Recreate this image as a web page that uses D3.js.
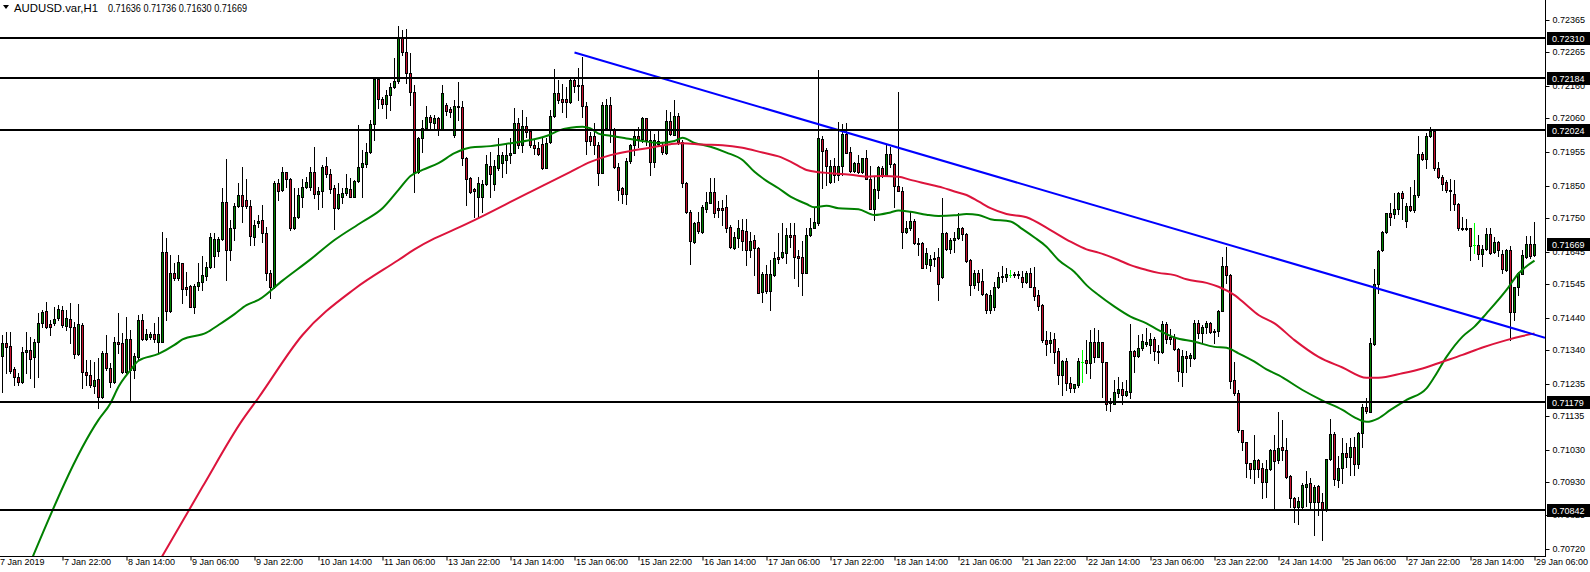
<!DOCTYPE html>
<html><head><meta charset="utf-8">
<script src="https://cdn.jsdelivr.net/npm/d3@7"></script>
<style>
html,body{margin:0;padding:0;background:#fff;overflow:hidden}
svg{display:block}
text{font-family:"Liberation Sans",Arial,sans-serif;font-size:9px;fill:#000}
</style></head><body>
<svg id="chart" width="1590" height="572"></svg>
<script>
const symbolTitle = "AUDUSD.var,H1";
const titleValues = "0.71636 0.71736 0.71630 0.71669";

const open = [
0.71321,0.71360,0.71351,0.71279,0.71254,0.71241,0.71334,0.71338,0.71319,0.71363,0.71424,0.71459,0.71420,0.71422,0.71438,0.71463,
0.71415,0.71437,0.71410,0.71326,0.71417,0.71270,0.71261,0.71228,0.71248,0.71194,0.71331,0.71284,0.71239,0.71364,0.71361,0.71272,
0.71375,0.71277,0.71319,0.71432,0.71375,0.71381,0.71388,0.71365,0.71365,0.71643,0.71462,0.71578,0.71562,0.71609,0.71536,0.71538,
0.71474,0.71539,0.71552,0.71570,0.71596,0.71630,0.71648,0.71683,0.71799,0.71650,0.71717,0.71787,0.71821,0.71805,0.71788,0.71692,
0.71733,0.71743,0.71702,0.71578,0.71536,0.71857,0.71837,0.71892,0.71870,0.71720,0.71752,0.71816,0.71845,0.71847,0.71892,0.71823,
0.71832,0.71911,0.71885,0.71842,0.71780,0.71816,0.71826,0.71839,0.71816,0.71864,0.71907,0.71918,0.71954,0.72041,0.72182,0.72118,
0.72104,0.72131,0.72157,0.72174,0.72308,0.72267,0.72199,0.72142,0.71894,0.71997,0.72028,0.72065,0.72044,0.72061,0.72027,0.72101,
0.72087,0.72007,0.72098,0.72094,0.71935,0.71873,0.71839,0.71816,0.71816,0.71855,0.71912,0.71854,0.71904,0.71919,0.71930,0.71945,
0.71953,0.72044,0.71976,0.72035,0.72020,0.71976,0.71968,0.71981,0.71906,0.71987,0.72066,0.72137,0.72119,0.72119,0.72109,0.72180,
0.72161,0.72163,0.72097,0.72004,0.72004,0.71978,0.71890,0.72028,0.72102,0.72026,0.71909,0.71842,0.71823,0.71926,0.71976,0.72004,
0.71995,0.72059,0.71992,0.71924,0.71989,0.71976,0.71953,0.72051,0.72009,0.72066,0.71987,0.71859,0.71769,0.71676,0.71736,0.71707,
0.71779,0.71797,0.71831,0.71780,0.71780,0.71783,0.71722,0.71657,0.71688,0.71712,0.71709,0.71650,0.71681,0.71655,0.71520,0.71577,
0.71524,0.71573,0.71628,0.71628,0.71642,0.71697,0.71697,0.71630,0.71628,0.71580,0.71697,0.71718,0.71733,0.71995,0.71961,0.71863,
0.71912,0.71884,0.71910,0.72011,0.71956,0.71896,0.71922,0.71894,0.71935,0.71871,0.71778,0.71837,0.71904,0.71884,0.71948,0.71918,
0.71849,0.71834,0.71707,0.71718,0.71741,0.71673,0.71671,0.71607,0.71605,0.71621,0.71627,0.71566,0.71702,0.71653,0.71680,0.71687,
0.71718,0.71700,0.71619,0.71540,0.71578,0.71554,0.71513,0.71464,0.71474,0.71534,0.71565,0.71567,0.71573,0.71575,0.71572,0.71566,
0.71552,0.71580,0.71536,0.71510,0.71479,0.71370,0.71360,0.71373,0.71336,0.71263,0.71305,0.71238,0.71222,0.71232,0.71303,0.71308,
0.71300,0.71365,0.71318,0.71363,0.71301,0.71178,0.71173,0.71207,0.71217,0.71199,0.71210,0.71336,0.71321,0.71344,0.71358,0.71355,
0.71375,0.71337,0.71334,0.71419,0.71380,0.71380,0.71341,0.71272,0.71320,0.71313,0.71313,0.71422,0.71391,0.71410,0.71424,0.71394,
0.71398,0.71462,0.71600,0.71572,0.71246,0.71207,0.71090,0.71052,0.70987,0.70968,0.70997,0.70973,0.70928,0.70968,0.71028,0.70997,
0.71037,0.71028,0.70947,0.70878,0.70850,0.70850,0.70914,0.70925,0.70868,0.70916,0.70868,0.70842,0.71000,0.71078,0.70935,0.70971,
0.71018,0.71008,0.71039,0.70985,0.71080,0.71163,0.71148,0.71358,0.71546,0.71650,0.71705,0.71764,0.71761,0.71779,0.71826,0.71741,
0.71787,0.71774,0.71821,0.71950,0.71933,0.72004,0.72020,0.71906,0.71878,0.71862,0.71838,0.71823,0.71792,0.71719,0.71718,0.71717,
0.71665,0.71665,0.71637,0.71652,0.71700,0.71644,0.71676,0.71639,0.71588,0.71650,0.71458,0.71536,0.71577,0.71629,0.71668,0.71636];

const high = [
0.71386,0.71396,0.71396,0.71288,0.71267,0.71350,0.71394,0.71381,0.71375,0.71453,0.71464,0.71487,0.71433,0.71472,0.71479,0.71477,
0.71464,0.71486,0.71427,0.71482,0.71424,0.71308,0.71308,0.71303,0.71313,0.71336,0.71386,0.71298,0.71381,0.71455,0.71391,0.71441,
0.71401,0.71329,0.71448,0.71451,0.71404,0.71396,0.71422,0.71441,0.71707,0.71686,0.71635,0.71609,0.71635,0.71609,0.71583,0.71541,
0.71544,0.71609,0.71630,0.71614,0.71704,0.71702,0.71692,0.71844,0.71933,0.71743,0.71795,0.71857,0.71909,0.71870,0.71805,0.71743,
0.71759,0.71790,0.71723,0.71588,0.71866,0.71870,0.71909,0.71894,0.71873,0.71842,0.71842,0.71870,0.71878,0.71909,0.71971,0.71847,
0.71914,0.71940,0.71901,0.71852,0.71857,0.71842,0.71886,0.71873,0.71868,0.72039,0.71961,0.71984,0.72054,0.72189,0.72184,0.72127,
0.72147,0.72168,0.72246,0.72346,0.72334,0.72336,0.72261,0.72163,0.72002,0.72054,0.72098,0.72070,0.72070,0.72064,0.72163,0.72106,
0.72094,0.72116,0.72173,0.72113,0.71940,0.71878,0.71842,0.71878,0.71868,0.71945,0.71956,0.71930,0.71997,0.71956,0.71982,0.71997,
0.72090,0.72059,0.72085,0.72064,0.72023,0.71992,0.71987,0.71997,0.71997,0.72085,0.72214,0.72178,0.72165,0.72157,0.72189,0.72183,
0.72217,0.72251,0.72111,0.72018,0.72044,0.71987,0.72111,0.72121,0.72126,0.72028,0.71919,0.71847,0.71935,0.71981,0.72023,0.72033,
0.72064,0.72059,0.72020,0.72012,0.72023,0.71987,0.72085,0.72080,0.72116,0.72075,0.71992,0.71862,0.71774,0.71738,0.71769,0.71790,
0.71831,0.71875,0.71873,0.71802,0.71805,0.71821,0.71728,0.71707,0.71743,0.71748,0.71746,0.71707,0.71696,0.71660,0.71582,0.71603,
0.71619,0.71645,0.71702,0.71733,0.71718,0.71733,0.71735,0.71650,0.71677,0.71718,0.71749,0.71780,0.72210,0.72003,0.71966,0.71930,
0.71937,0.72049,0.72042,0.72044,0.71970,0.71925,0.71946,0.71937,0.71961,0.71912,0.71878,0.71912,0.71912,0.71977,0.71970,0.71920,
0.72141,0.71847,0.71739,0.71770,0.71746,0.71687,0.71676,0.71656,0.71635,0.71645,0.71656,0.71811,0.71707,0.71687,0.71707,0.71764,
0.71723,0.71702,0.71621,0.71588,0.71588,0.71590,0.71516,0.71526,0.71552,0.71583,0.71599,0.71593,0.71588,0.71583,0.71586,0.71586,
0.71586,0.71593,0.71596,0.71526,0.71481,0.71398,0.71396,0.71391,0.71344,0.71308,0.71313,0.71256,0.71235,0.71313,0.71339,0.71370,
0.71401,0.71409,0.71401,0.71365,0.71303,0.71189,0.71246,0.71256,0.71241,0.71246,0.71419,0.71339,0.71385,0.71389,0.71409,0.71393,
0.71380,0.71355,0.71429,0.71427,0.71406,0.71389,0.71344,0.71339,0.71337,0.71329,0.71432,0.71434,0.71417,0.71430,0.71426,0.71406,
0.71463,0.71629,0.71658,0.71574,0.71301,0.71215,0.71092,0.71054,0.70989,0.71075,0.70999,0.70987,0.70997,0.71033,0.71075,0.71148,
0.71122,0.71065,0.70951,0.70883,0.70883,0.70927,0.70963,0.70940,0.70919,0.70919,0.70894,0.71002,0.71125,0.71085,0.71010,0.71065,
0.71051,0.71065,0.71070,0.71085,0.71170,0.71189,0.71378,0.71590,0.71650,0.71710,0.71766,0.71795,0.71828,0.71831,0.71834,0.71795,
0.71845,0.71867,0.72004,0.71955,0.72015,0.72031,0.72023,0.71924,0.71883,0.71867,0.71872,0.71867,0.71795,0.71753,0.71748,0.71717,
0.71735,0.71696,0.71665,0.71717,0.71717,0.71691,0.71678,0.71650,0.71652,0.71662,0.71536,0.71582,0.71650,0.71693,0.71693,0.71736];

const low = [
0.71210,0.71267,0.71267,0.71231,0.71231,0.71238,0.71267,0.71251,0.71223,0.71254,0.71412,0.71407,0.71387,0.71417,0.71433,0.71412,
0.71401,0.71360,0.71313,0.71324,0.71222,0.71231,0.71225,0.71205,0.71158,0.71189,0.71277,0.71225,0.71236,0.71329,0.71267,0.71267,
0.71179,0.71251,0.71308,0.71370,0.71370,0.71375,0.71365,0.71329,0.71363,0.71433,0.71458,0.71557,0.71557,0.71486,0.71510,0.71474,
0.71453,0.71526,0.71526,0.71557,0.71593,0.71598,0.71630,0.71681,0.71557,0.71619,0.71681,0.71785,0.71738,0.71780,0.71666,0.71666,
0.71723,0.71676,0.71557,0.71500,0.71531,0.71806,0.71835,0.71847,0.71712,0.71714,0.71749,0.71785,0.71842,0.71837,0.71811,0.71778,
0.71785,0.71878,0.71826,0.71714,0.71777,0.71795,0.71821,0.71814,0.71814,0.71862,0.71816,0.71909,0.71951,0.71992,0.72090,0.72090,
0.72059,0.72085,0.72153,0.72170,0.72256,0.72168,0.72101,0.71831,0.71888,0.71956,0.72023,0.72023,0.72023,0.72008,0.72023,0.72070,
0.72065,0.72002,0.72054,0.71914,0.71790,0.71826,0.71754,0.71754,0.71769,0.71852,0.71816,0.71837,0.71899,0.71878,0.71888,0.71919,
0.71951,0.71966,0.71955,0.72002,0.71971,0.71950,0.71945,0.71902,0.71904,0.71984,0.72064,0.72106,0.72080,0.72064,0.72106,0.72142,
0.72116,0.72064,0.71950,0.71976,0.71950,0.71852,0.71888,0.72023,0.71987,0.71904,0.71805,0.71795,0.71792,0.71919,0.71945,0.71971,
0.71987,0.71976,0.71883,0.71909,0.71976,0.71950,0.71950,0.72007,0.72007,0.71981,0.71847,0.71764,0.71608,0.71671,0.71702,0.71702,
0.71769,0.71795,0.71753,0.71753,0.71728,0.71707,0.71655,0.71653,0.71660,0.71650,0.71603,0.71629,0.71572,0.71515,0.71489,0.71515,
0.71464,0.71570,0.71609,0.71624,0.71609,0.71661,0.71562,0.71537,0.71511,0.71578,0.71695,0.71717,0.71728,0.71844,0.71852,0.71858,
0.71860,0.71868,0.71884,0.71951,0.71894,0.71894,0.71891,0.71891,0.71870,0.71777,0.71742,0.71811,0.71876,0.71881,0.71909,0.71785,
0.71832,0.71656,0.71702,0.71712,0.71669,0.71635,0.71593,0.71593,0.71586,0.71601,0.71495,0.71563,0.71650,0.71640,0.71645,0.71684,
0.71682,0.71612,0.71511,0.71531,0.71526,0.71511,0.71454,0.71454,0.71464,0.71531,0.71552,0.71555,0.71567,0.71567,0.71562,0.71536,
0.71548,0.71534,0.71494,0.71463,0.71365,0.71323,0.71334,0.71300,0.71233,0.71199,0.71215,0.71210,0.71210,0.71225,0.71241,0.71269,
0.71251,0.71303,0.71316,0.71194,0.71153,0.71150,0.71171,0.71194,0.71171,0.71196,0.71189,0.71272,0.71318,0.71339,0.71351,0.71329,
0.71308,0.71298,0.71331,0.71360,0.71358,0.71339,0.71244,0.71228,0.71272,0.71289,0.71310,0.71378,0.71360,0.71391,0.71391,0.71360,
0.71382,0.71460,0.71549,0.71220,0.71199,0.71085,0.71028,0.70945,0.70940,0.70925,0.70945,0.70878,0.70883,0.70966,0.70842,0.70987,
0.70997,0.70940,0.70852,0.70806,0.70800,0.70847,0.70854,0.70847,0.70764,0.70826,0.70749,0.70840,0.70997,0.70920,0.70914,0.70927,
0.70976,0.70951,0.70951,0.70971,0.71039,0.71142,0.71148,0.71355,0.71517,0.71647,0.71702,0.71728,0.71751,0.71761,0.71745,0.71722,
0.71772,0.71769,0.71814,0.71930,0.71904,0.72000,0.71900,0.71873,0.71837,0.71830,0.71774,0.71774,0.71712,0.71712,0.71712,0.71619,
0.71641,0.71621,0.71600,0.71650,0.71638,0.71641,0.71631,0.71580,0.71586,0.71370,0.71432,0.71510,0.71574,0.71624,0.71624,0.71630];

const close = [
0.71360,0.71350,0.71275,0.71254,0.71241,0.71332,0.71339,0.71310,0.71363,0.71423,0.71458,0.71412,0.71412,0.71435,0.71466,0.71416,
0.71438,0.71410,0.71326,0.71419,0.71270,0.71261,0.71229,0.71246,0.71194,0.71329,0.71284,0.71239,0.71363,0.71359,0.71272,0.71375,
0.71277,0.71321,0.71432,0.71375,0.71388,0.71388,0.71375,0.71388,0.71643,0.71462,0.71578,0.71562,0.71612,0.71528,0.71528,0.71474,
0.71539,0.71550,0.71571,0.71596,0.71689,0.71684,0.71684,0.71799,0.71649,0.71717,0.71787,0.71821,0.71788,0.71788,0.71695,0.71727,
0.71741,0.71702,0.71578,0.71536,0.71857,0.71835,0.71892,0.71870,0.71720,0.71752,0.71821,0.71845,0.71860,0.71892,0.71824,0.71834,
0.71907,0.71885,0.71839,0.71780,0.71824,0.71827,0.71842,0.71816,0.71864,0.71908,0.71920,0.71955,0.72042,0.72182,0.72118,0.72104,
0.72131,0.72157,0.72176,0.72308,0.72267,0.72199,0.72142,0.71894,0.71997,0.72028,0.72065,0.72049,0.72061,0.72025,0.72138,0.72083,
0.72079,0.72098,0.72094,0.71935,0.71870,0.71831,0.71835,0.71857,0.71855,0.71917,0.71886,0.71912,0.71945,0.71945,0.71945,0.71953,
0.72044,0.71976,0.72035,0.72018,0.71976,0.71966,0.71950,0.71906,0.71984,0.72066,0.72137,0.72116,0.72111,0.72111,0.72180,0.72161,
0.72163,0.72097,0.71990,0.71990,0.71978,0.71890,0.72100,0.72100,0.72026,0.71909,0.71838,0.71823,0.71926,0.71976,0.72004,0.71995,
0.72059,0.71992,0.71924,0.71992,0.71979,0.71955,0.72051,0.72012,0.72066,0.71987,0.71859,0.71767,0.71679,0.71733,0.71709,0.71783,
0.71800,0.71831,0.71766,0.71776,0.71776,0.71719,0.71660,0.71691,0.71717,0.71679,0.71650,0.71678,0.71655,0.71515,0.71577,0.71522,
0.71576,0.71625,0.71621,0.71643,0.71697,0.71692,0.71628,0.71625,0.71580,0.71697,0.71718,0.71736,0.71998,0.71959,0.71912,0.71912,
0.71884,0.71912,0.72011,0.71953,0.71896,0.71922,0.71894,0.71935,0.71871,0.71778,0.71839,0.71907,0.71884,0.71948,0.71918,0.71849,
0.71834,0.71707,0.71718,0.71741,0.71671,0.71671,0.71593,0.71640,0.71622,0.71625,0.71544,0.71702,0.71653,0.71682,0.71687,0.71718,
0.71700,0.71616,0.71540,0.71578,0.71552,0.71513,0.71464,0.71510,0.71534,0.71567,0.71569,0.71575,0.71573,0.71572,0.71575,0.71552,
0.71580,0.71536,0.71508,0.71477,0.71370,0.71357,0.71370,0.71334,0.71263,0.71305,0.71237,0.71222,0.71233,0.71305,0.71303,0.71300,
0.71364,0.71318,0.71363,0.71301,0.71173,0.71175,0.71210,0.71217,0.71199,0.71213,0.71336,0.71321,0.71347,0.71368,0.71363,0.71375,
0.71337,0.71334,0.71419,0.71375,0.71373,0.71341,0.71274,0.71320,0.71313,0.71323,0.71422,0.71391,0.71412,0.71424,0.71394,0.71399,
0.71462,0.71600,0.71572,0.71244,0.71207,0.71090,0.71052,0.70987,0.70968,0.70997,0.70970,0.70928,0.70969,0.71028,0.70995,0.71036,
0.71028,0.70945,0.70878,0.70850,0.70870,0.70920,0.70923,0.70868,0.70914,0.70868,0.70842,0.71000,0.71078,0.70937,0.70971,0.71018,
0.71008,0.71037,0.70985,0.71082,0.71163,0.71150,0.71360,0.71546,0.71647,0.71705,0.71764,0.71753,0.71779,0.71826,0.71813,0.71787,
0.71774,0.71821,0.71950,0.71933,0.72004,0.72020,0.71906,0.71878,0.71855,0.71836,0.71833,0.71792,0.71717,0.71716,0.71716,0.71662,
0.71665,0.71637,0.71652,0.71700,0.71641,0.71674,0.71650,0.71590,0.71650,0.71458,0.71536,0.71580,0.71634,0.71668,0.71632,0.71669];

// moving averages (bar index, value)
const greenMaBar = [7,24,27,29,32,34,39,43,45,51,54,58,61,64,70,77,83,90,95,99,102,105,109,113,117,122,127,132,137,139,142,145,147,149,152,156,160,164,168,170,173,177,181,185,188,191,194,197,201,203,206,209,214,218,222,224,227,231,234,238,241,244,247,252,255,258,261,264,268,271,274,278,282,286,289,293,298,303,306,309,313,316,319,325,330,335,338,341,344,347,351,356,358,361,365,368,371,376,379,383];
const greenMaVal = [0.70680,0.71122,0.71174,0.71225,0.71277,0.71306,0.71327,0.71355,0.71372,0.71393,0.71417,0.71451,0.71479,0.71495,0.71555,0.71621,0.71681,0.71738,0.71780,0.71837,0.71880,0.71899,0.71920,0.71951,0.71969,0.71973,0.71982,0.71992,0.72009,0.72021,0.72030,0.72033,0.72028,0.72012,0.72005,0.71997,0.71989,0.71983,0.71989,0.71999,0.71983,0.71971,0.71953,0.71930,0.71893,0.71865,0.71842,0.71816,0.71793,0.71783,0.71788,0.71780,0.71777,0.71759,0.71767,0.71773,0.71769,0.71760,0.71756,0.71758,0.71762,0.71759,0.71746,0.71739,0.71715,0.71689,0.71660,0.71619,0.71582,0.71541,0.71510,0.71474,0.71443,0.71422,0.71401,0.71378,0.71365,0.71349,0.71346,0.71329,0.71303,0.71279,0.71261,0.71215,0.71182,0.71153,0.71130,0.71116,0.71127,0.71153,0.71184,0.71220,0.71256,0.71318,0.71381,0.71412,0.71453,0.71526,0.71577,0.71617];
const redMaBar = [38,50,60,64,75,88,99,103,108,113,118,123,128,132,137,142,147,152,157,162,167,170,175,180,185,190,194,197,201,204,207,212,216,220,224,227,231,235,238,241,244,247,251,256,262,267,271,274,279,282,286,289,293,296,301,304,308,311,314,318,323,329,335,341,344,350,355,360,365,370,376,380,383];
const redMaVal = [0.70657,0.70914,0.71122,0.71191,0.71386,0.71529,0.71619,0.71652,0.71686,0.71714,0.71743,0.71774,0.71806,0.71831,0.71862,0.71893,0.71924,0.71945,0.71958,0.71968,0.71979,0.71982,0.71978,0.71976,0.71968,0.71953,0.71941,0.71925,0.71899,0.71892,0.71889,0.71884,0.71878,0.71880,0.71878,0.71868,0.71856,0.71844,0.71832,0.71821,0.71801,0.71780,0.71762,0.71752,0.71712,0.71676,0.71652,0.71642,0.71619,0.71603,0.71588,0.71579,0.71572,0.71559,0.71548,0.71536,0.71510,0.71479,0.71448,0.71422,0.71370,0.71318,0.71285,0.71253,0.71253,0.71267,0.71282,0.71303,0.71324,0.71347,0.71370,0.71383,0.71391];

const trendBar = [143, 383];
const trendVal = [0.72264, 0.71387];

const levels = [0.72310, 0.72184, 0.72024, 0.71179, 0.70842];
const currentPrice = 0.71669;

const priceTicks = [0.72365,0.72265,0.72160,0.72060,0.71955,0.71850,0.71750,0.71645,0.71545,0.71440,0.71340,0.71235,0.71135,0.71030,0.70930,0.70825,0.70720];
const dateTickBars = [-1,15,31,47,63,79,95,111,127,143,159,175,191,207,223,239,255,271,287,303,319,335,351,367,383];
const dateLabels = ["7 Jan 2019","7 Jan 22:00","8 Jan 14:00","9 Jan 06:00","9 Jan 22:00","10 Jan 14:00","11 Jan 06:00","13 Jan 22:00","14 Jan 14:00","15 Jan 06:00","15 Jan 22:00","16 Jan 14:00","17 Jan 06:00","17 Jan 22:00","18 Jan 14:00","21 Jan 06:00","21 Jan 22:00","22 Jan 14:00","23 Jan 06:00","23 Jan 22:00","24 Jan 14:00","25 Jan 06:00","27 Jan 22:00","28 Jan 14:00","29 Jan 06:00"];

// ---- layout
const W = 1590, H = 572, PR = 1545, PB = 556;
const svg = d3.select("#chart");
const x = d3.scaleLinear().domain([0, 383]).range([2.5, 1534.5]);
const y = d3.scaleLinear().domain([0.70842, 0.72310]).range([510, 37.7]);

svg.append("defs").append("clipPath").attr("id","plot")
  .append("rect").attr("x",0).attr("y",0).attr("width",PR).attr("height",PB);
const plot = svg.append("g").attr("clip-path","url(#plot)");

const UP = "#008000", DOWN = "#c8102e", DOJI = "#00ff00";
const bars = d3.range(open.length).map(i => ({i, o:open[i], h:high[i], l:low[i], c:close[i]}));
const R = v => Math.round(y(v));

const cg = plot.append("g");
const norm = bars.filter(d => d.o !== d.c);
const doji = bars.filter(d => d.o === d.c);
cg.selectAll("line.wick").data(norm).join("line").attr("class","wick")
  .attr("x1",d=>x(d.i)).attr("x2",d=>x(d.i))
  .attr("y1",d=>R(Math.max(d.h,d.o,d.c))).attr("y2",d=>R(Math.min(d.l,d.o,d.c))+1)
  .attr("stroke","#000").attr("stroke-width",1);
cg.selectAll("rect.body").data(norm).join("rect").attr("class","body")
  .attr("x",d=>x(d.i)-1.5).attr("width",3)
  .attr("y",d=>R(Math.max(d.o,d.c)))
  .attr("height",d=>Math.max(2, R(Math.min(d.o,d.c)) - R(Math.max(d.o,d.c)) + 1))
  .attr("fill","#000");
cg.selectAll("rect.core").data(norm.filter(d => R(Math.min(d.o,d.c)) - R(Math.max(d.o,d.c)) >= 2)).join("rect").attr("class","core")
  .attr("x",d=>x(d.i)-0.5).attr("width",1)
  .attr("y",d=>R(Math.max(d.o,d.c))+1)
  .attr("height",d=>R(Math.min(d.o,d.c)) - R(Math.max(d.o,d.c)) - 1)
  .attr("fill",d=>d.c>d.o?UP:DOWN);
cg.selectAll("line.dw").data(doji).join("line").attr("class","dw")
  .attr("x1",d=>x(d.i)).attr("x2",d=>x(d.i))
  .attr("y1",d=>R(d.h)).attr("y2",d=>R(d.l)+1)
  .attr("stroke",DOJI).attr("stroke-width",1);
cg.selectAll("line.dh").data(doji).join("line").attr("class","dh")
  .attr("x1",d=>x(d.i)-1.5).attr("x2",d=>x(d.i)+1.5)
  .attr("y1",d=>R(d.o)+0.5).attr("y2",d=>R(d.o)+0.5)
  .attr("stroke",DOJI).attr("stroke-width",1);

// moving averages
const line = d3.line().x(d=>x(d[0])).y(d=>y(d[1])).curve(d3.curveMonotoneX);
plot.append("path").attr("d", line(greenMaBar.map((b,i)=>[b,greenMaVal[i]])))
  .attr("fill","none").attr("stroke","#008000").attr("stroke-width",2);
plot.append("path").attr("d", line(redMaBar.map((b,i)=>[b,redMaVal[i]])))
  .attr("fill","none").attr("stroke","#dc143c").attr("stroke-width",2);

// trend line (ray to the right edge)
const slope = (trendVal[1]-trendVal[0])/(trendBar[1]-trendBar[0]);
const endBar = x.invert(PR);
plot.append("line")
  .attr("x1",x(trendBar[0])).attr("y1",y(trendVal[0]))
  .attr("x2",x(endBar)).attr("y2",y(trendVal[0] + slope*(endBar-trendBar[0])))
  .attr("stroke","#0000ff").attr("stroke-width",2);

// horizontal levels
plot.selectAll("line.lvl").data(levels).join("line").attr("class","lvl")
  .attr("x1",0).attr("x2",PR).attr("y1",d=>R(d)).attr("y2",d=>R(d))
  .attr("stroke","#000").attr("stroke-width",2);

// frame
svg.append("line").attr("x1",PR+0.5).attr("x2",PR+0.5).attr("y1",0).attr("y2",PB+1).attr("stroke","#000");
svg.append("line").attr("x1",0).attr("x2",PR+1).attr("y1",PB+0.5).attr("y2",PB+0.5).attr("stroke","#000");

// right price axis
const ya = svg.append("g").attr("transform",`translate(${PR+0.5},0)`)
  .call(d3.axisRight(y).tickValues(priceTicks).tickFormat(d3.format(".5f")).tickSize(4).tickPadding(3));
ya.select(".domain").remove();
ya.selectAll("text").attr("font-family",null).attr("font-size",null);
ya.selectAll("line").attr("stroke","#000");
ya.selectAll(".tick").attr("transform",d=>`translate(0,${R(d)+0.5})`);

// level + current price tags
const tags = levels.concat([currentPrice]);
const tg = svg.append("g");
tg.selectAll("rect").data(tags).join("rect")
  .attr("x",PR+2).attr("width",W-PR-2).attr("y",d=>R(d)-6).attr("height",13).attr("fill","#000");
tg.selectAll("text").data(tags).join("text")
  .attr("x",PR+7).attr("y",d=>R(d)+0.5).attr("dy","0.35em")
  .style("fill","#fff").text(d=>d3.format(".5f")(d));

// bottom time axis
const xa = svg.append("g").attr("transform",`translate(0,${PB+0.5})`)
  .call(d3.axisBottom(x).tickValues(dateTickBars).tickFormat((d,i)=>dateLabels[i]).tickSize(4));
xa.select(".domain").remove();
xa.selectAll("text").attr("font-family",null).attr("font-size",null)
  .attr("text-anchor","start").attr("x",1).attr("y",8.5).attr("dy",null);
xa.selectAll("line").attr("stroke","#000");

// title
svg.append("path").attr("d","M3,5 L9,5 L6,9 Z").attr("fill","#000");
svg.append("text").attr("x",14).attr("y",11.5).attr("textLength",84).attr("lengthAdjust","spacingAndGlyphs")
  .style("font-size","10.5px").text(symbolTitle);
svg.append("text").attr("x",108).attr("y",11.5).attr("textLength",139).attr("lengthAdjust","spacingAndGlyphs")
  .style("font-size","10px").text(titleValues);
</script>
</body></html>
